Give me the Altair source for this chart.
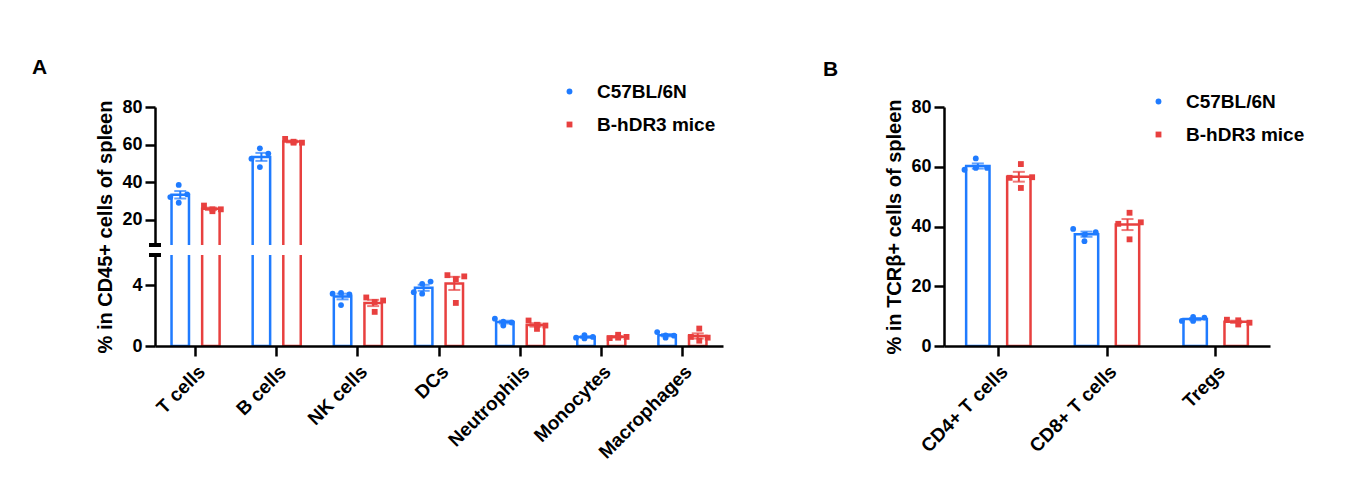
import altair as alt
import pandas as pd

groups = ["C57BL/6N", "B-hDR3 mice"]
colors = ["#1f7bff", "#e8403f"]
shapes = ["circle", "square"]
# horizontal slot of each of the 4 mice inside its bar
spread = ["-1", "0", "1", "0"]

cells_A = ["T cells", "B cells", "NK cells", "DCs", "Neutrophils", "Monocytes", "Macrophages"]
wt_A = [
    [32.0, 38.5, 33.5, 29.0],
    [52.5, 58.0, 55.2, 48.0],
    [3.45, 3.50, 3.40, 2.70],
    [3.55, 4.10, 4.25, 3.45],
    [1.80, 1.60, 1.55, 1.35],
    [0.55, 0.72, 0.60, 0.50],
    [0.92, 0.70, 0.68, 0.55],
]
hdr_A = [
    [27.5, 25.5, 25.5, 24.5],
    [63.0, 61.5, 61.0, 61.0],
    [3.20, 2.90, 3.00, 2.25],
    [4.67, 4.41, 4.59, 2.84],
    [1.68, 1.40, 1.35, 1.13],
    [0.52, 0.74, 0.60, 0.55],
    [0.60, 1.15, 0.55, 0.35],
]

cells_B = ["CD4+ T cells", "CD8+ T cells", "Tregs"]
wt_B = [
    [59.0, 62.8, 59.6, 59.6],
    [39.2, 37.3, 38.1, 35.1],
    [8.4, 9.7, 9.5, 8.4],
]
hdr_B = [
    [56.3, 60.9, 56.5, 52.9],
    [40.9, 44.6, 41.4, 35.7],
    [8.8, 8.6, 7.8, 7.2],
]

FONT = "Liberation Sans"


def long_table(cells, wt, hdr):
    rows = []
    for c, a, b in zip(cells, wt, hdr):
        for g, vals in ((groups[0], a), (groups[1], b)):
            for s, v in zip(spread, vals):
                rows.append({"cell": c, "group": g, "spread": s, "value": v})
    return pd.DataFrame(rows)


slots = ["padL"] + [f"{groups[0]}|{s}" for s in ("-1", "0", "1")] + ["gap"] + \
        [f"{groups[1]}|{s}" for s in ("-1", "0", "1")] + ["padR"]

color_scale = alt.Scale(domain=groups, range=colors)
shape_scale = alt.Scale(domain=groups, range=shapes)


def panel(df, cells, width, height, ydomain, yticks, show_x, ytitle,
          title_y=None, legend=None, label=None, label_dx=0, label_dy=0,
          breaks=None):
    if show_x:
        x_axis = alt.Axis(labelAngle=-45, labelFontSize=19, labelFont=FONT,
                          labelFontWeight="bold", labelColor="black",
                          tickSize=10, tickWidth=2.5, tickColor="black",
                          domainWidth=2.5, domainColor="black", labelPadding=6,
                          zindex=2)
    else:
        x_axis = None
    x = alt.X("cell:N", sort=cells, title=None, axis=x_axis,
              scale=alt.Scale(paddingInner=0, paddingOuter=0))
    yax = dict(values=yticks, labelFontSize=18, labelFont=FONT,
               labelFontWeight="bold", labelColor="black", tickSize=10,
               tickWidth=2.5, tickColor="black", domainWidth=2.5,
               domainColor="black", grid=False, labelPadding=3, zindex=2,
               title=ytitle, titleFontSize=20, titleFont=FONT,
               titleFontWeight="bold", titleColor="black", titlePadding=6)
    if title_y is not None:
        yax["titleY"] = title_y
    yaxis = alt.Axis(**yax)
    yscale = alt.Scale(domain=ydomain, nice=False, zero=False)

    def Y(field):
        return alt.Y(field, scale=yscale, axis=yaxis)

    xoff_group = alt.XOffset("group:N", sort=groups,
                             scale=alt.Scale(domain=groups, paddingInner=0.43,
                                             paddingOuter=0.54))
    stroke_g = alt.Stroke("group:N", scale=color_scale, legend=None)
    fill_g = alt.Fill("group:N", scale=color_scale, legend=None)

    base = alt.Chart(df)
    bars = base.mark_bar(filled=False, strokeWidth=2.5, clip=True).encode(
        x=x, xOffset=xoff_group, y=Y("mean(value):Q"), y2=alt.datum(0),
        stroke=stroke_g)

    err = base.transform_aggregate(
        m="mean(value)", se="stderr(value)", groupby=["cell", "group"]
    ).transform_calculate(lo="datum.m - datum.se", hi="datum.m + datum.se")
    rule = err.mark_rule(strokeWidth=2, clip=True).encode(
        x=x, xOffset=xoff_group, y=Y("lo:Q"), y2="hi:Q", stroke=stroke_g)
    cap_hi = err.mark_tick(size=12, thickness=2, clip=True).encode(
        x=x, xOffset=xoff_group, y=Y("hi:Q"), fill=fill_g)
    cap_lo = err.mark_tick(size=12, thickness=2, clip=True).encode(
        x=x, xOffset=xoff_group, y=Y("lo:Q"), fill=fill_g)

    if legend is not None:
        col = alt.Color("group:N", scale=color_scale, legend=legend, title=None)
        shp = alt.Shape("group:N", scale=shape_scale, legend=legend, title=None)
    else:
        col = alt.Color("group:N", scale=color_scale, legend=None)
        shp = alt.Shape("group:N", scale=shape_scale, legend=None)
    pts = base.transform_calculate(
        slot="datum.group + '|' + datum.spread"
    ).mark_point(filled=True, size=34, opacity=1, clip=True).encode(
        x=x,
        xOffset=alt.XOffset("slot:N", scale=alt.Scale(domain=slots, paddingInner=0,
                                                      paddingOuter=0.82)),
        y=Y("value:Q"), color=col, shape=shp)

    layers = [bars, rule, cap_hi, cap_lo, pts]
    if breaks is not None:
        brk = alt.Chart(df).mark_rule(strokeWidth=2.5, color="black").encode(
            x=alt.value(-6), x2=alt.value(6),
            y=alt.YDatum(breaks, type="quantitative", scale=yscale, axis=yaxis))
        layers.append(brk)

    props = dict(width=width, height=height)
    if label is not None:
        props["title"] = alt.TitleParams(label, anchor="start", frame="group",
                                         dx=label_dx, dy=label_dy, fontSize=21,
                                         font=FONT, fontWeight="bold",
                                         color="black", offset=18)
    return alt.layer(*layers).resolve_scale(xOffset="independent").properties(**props)


dfA = long_table(cells_A, wt_A, hdr_A)
dfB = long_table(cells_B, wt_B, hdr_B)

legA = alt.Legend(orient="none", legendX=405, legendY=-25, labelFontSize=19,
                  labelFont=FONT, labelFontWeight="bold", labelColor="black",
                  symbolSize=34, rowPadding=13, labelOffset=18, padding=0)
legB = alt.Legend(orient="none", legendX=205, legendY=-15, labelFontSize=19,
                  labelFont=FONT, labelFontWeight="bold", labelColor="black",
                  symbolSize=34, rowPadding=13, labelOffset=18, padding=0)

topA = panel(dfA, cells_A, 568, 138, [6.5, 80], [20, 40, 60, 80], False,
             "% in CD45+ cells of spleen", title_y=119.5, legend=legA,
             label="A", label_dx=-123, label_dy=14, breaks=6.5)
botA = panel(dfA, cells_A, 568, 91, [0, 6], [0, 4], True, "", breaks=6)
A = alt.vconcat(topA, botA, spacing=10, bounds="flush").resolve_scale(
    color="independent", shape="independent")

B = panel(dfB, cells_B, 326, 239, [0, 80], [0, 20, 40, 60, 80], True,
          "% in TCRβ+ cells of spleen", legend=legB, label="B",
          label_dx=-121, label_dy=6)

chart = alt.hconcat(A, B, spacing=100).resolve_scale(
    color="independent", shape="independent"
).configure_view(stroke=None).properties(
    padding={"left": 24, "top": 49, "right": 5, "bottom": 5})

chart.save("out.html", embed_options={"renderer": "svg", "actions": False})
